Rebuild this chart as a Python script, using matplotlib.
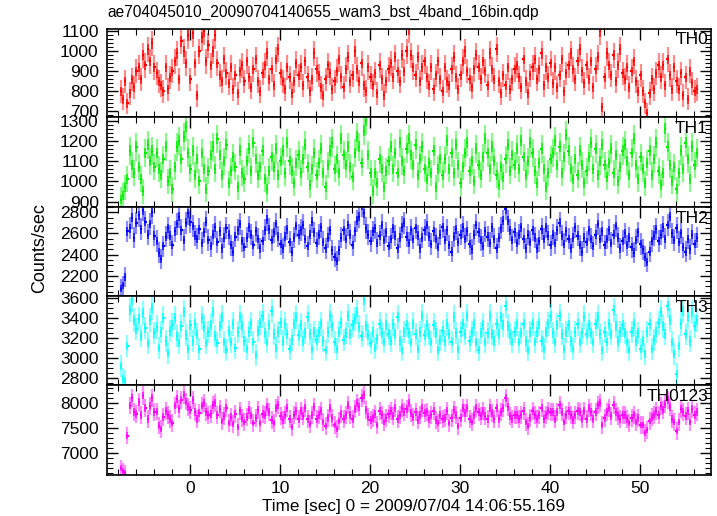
import numpy as np
import matplotlib
matplotlib.use("Agg")
import matplotlib.pyplot as plt
from matplotlib.ticker import MultipleLocator

plt.rcParams['font.family'] = ['Liberation Sans', 'DejaVu Sans']

# light curve, 0.25 s bins, counts/sec
bin_width = 0.25
t_start = -7.8

th0 = [800, 760, 850, 740, 790, 860, 820, 900,
       920, 860, 980, 930, 1010, 950, 1040, 920,
       890, 850, 830, 800, 920, 810, 870, 900,
       950, 990, 860, 1050, 1000, 940, 1080, 860,
       1090, 940, 780, 1000, 1070, 1100, 950, 1030,
       930, 1000, 1080, 940, 880, 850, 960, 890,
       840, 920, 810, 880, 790, 900, 930, 850,
       950, 870, 820, 910, 960, 850, 800, 890,
       930, 990, 860, 910, 830, 960, 1010, 890,
       850, 810, 920, 870, 790, 850, 940, 880,
       920, 830, 950, 870, 800, 860, 990, 910,
       880, 820, 780, 860, 930, 890, 810, 850,
       900, 960, 870, 820, 910, 970, 850, 880,
       1000, 910, 850, 940, 830, 800, 920, 870,
       830, 890, 790, 930, 860, 780, 850, 910,
       940, 870, 970, 900, 850, 980, 900, 1000,
       1110, 980, 920, 880, 970, 850, 920, 950,
       870, 830, 920, 810, 880, 950, 860, 800,
       920, 850, 830, 910, 970, 870, 810, 880,
       950, 1000, 900, 860, 820, 910, 980, 920,
       860, 950, 900, 830, 990, 910, 860, 1010,
       850, 790, 880, 830, 920, 810, 860, 910,
       930, 870, 820, 960, 850, 790, 880, 920,
       960, 860, 910, 990, 830, 920, 870, 940,
       840, 920, 820, 880, 960, 800, 890, 930,
       990, 910, 860, 950, 1010, 900, 840, 930,
       860, 950, 820, 910, 970, 1100, 720, 870,
       990, 930, 880, 980, 850, 930, 1010, 890,
       860, 920, 820, 900, 950, 850, 800, 880,
       800, 740, 690, 790, 860, 810, 890, 930,
       870, 930, 830, 960, 880, 810, 920, 850,
       810, 890, 780, 870, 760, 900, 840, 800,
       810]

th1 = [910, 930, 970, 1010, 1150, 1080, 1040, 1170,
       1070, 1010, 950, 1140, 1180, 1100, 1150, 1070,
       1140, 1060, 1030, 1110, 1170, 1000, 1040, 960,
       1070, 1170, 1200, 1110, 1220, 1270, 1140, 1060,
       1150, 1030, 1110, 1000, 1140, 1060, 960, 1050,
       1130, 1170, 1060, 1210, 1130, 1030, 1100, 1180,
       990, 1050, 1120, 1070, 970, 1150, 1040, 1010,
       1100, 1160, 1050, 1190, 1110, 1030, 1070, 1150,
       1010, 960, 1050, 1120, 1070, 1160, 1030, 1100,
       1150, 1040, 1190, 1100, 1050, 990, 1090, 1130,
       1040, 1110, 1180, 1070, 980, 1060, 1140, 1030,
       1090, 1160, 1040, 970, 1080, 1150, 1190, 1060,
       1110, 1040, 1210, 1130, 1080, 1170, 1070, 1020,
       1140, 1220, 1170, 1090, 1250, 1300, 1130, 1040,
       950, 1040, 990, 1110, 1060, 970, 1050, 1100,
       1170, 1060, 1140, 1040, 1190, 1100, 1050, 1160,
       1210, 1130, 1080, 1180, 1030, 1110, 1170, 1060,
       1010, 1090, 1040, 1150, 970, 1060, 1110, 1030,
       1110, 1200, 1060, 1140, 1040, 1180, 1080, 990,
       1070, 1140, 1190, 1050, 1100, 1000, 1160, 1080,
       1030, 1120, 1210, 1140, 1060, 1170, 1100, 1030,
       980, 1070, 1020, 1110, 1180, 1050, 1130, 1080,
       1160, 1060, 1200, 1120, 1030, 1100, 1190, 1140,
       1050, 990, 1090, 1160, 1060, 970, 1040, 1110,
       1140, 1200, 1080, 1170, 1040, 1120, 1230, 1150,
       1060, 1010, 1110, 1030, 1150, 1080, 990, 1050,
       1120, 1190, 1060, 1160, 1030, 1100, 1180, 1080,
       1020, 1090, 1160, 1040, 1130, 1000, 1070, 1150,
       1180, 1100, 1030, 1140, 1210, 1080, 1010, 1120,
       1060, 990, 1090, 1150, 1030, 1110, 1190, 1050,
       980, 1040, 1260, 1170, 1080, 1000, 1070, 960,
       1040, 1150, 1060, 1190, 1110, 1010, 1170, 1080,
       1140]

th2 = [2080, 2110, 2190, 2620, 2650, 2750, 2560, 2700,
       2770, 2640, 2820, 2710, 2590, 2690, 2800, 2580,
       2530, 2420, 2360, 2480, 2570, 2650, 2580, 2490,
       2620, 2690, 2760, 2630, 2540, 2700, 2790, 2710,
       2670, 2580, 2550, 2640, 2510, 2610, 2710, 2540,
       2480, 2590, 2660, 2520, 2620, 2460, 2560, 2650,
       2590, 2490, 2430, 2570, 2630, 2690, 2530, 2470,
       2560, 2660, 2590, 2490, 2620, 2550, 2460, 2530,
       2630, 2730, 2640, 2540, 2610, 2690, 2570, 2500,
       2460, 2570, 2640, 2520, 2430, 2560, 2670, 2590,
       2630, 2680, 2550, 2480, 2590, 2710, 2610, 2510,
       2590, 2660, 2520, 2460, 2560, 2630, 2440, 2380,
       2340, 2440, 2560, 2630, 2550, 2680, 2590, 2490,
       2620, 2720, 2760, 2860, 2790, 2650, 2590, 2530,
       2620, 2650, 2510, 2580, 2680, 2540, 2610, 2480,
       2550, 2650, 2580, 2460, 2560, 2660, 2700, 2570,
       2510, 2630, 2550, 2650, 2580, 2460, 2560, 2630,
       2680, 2570, 2500, 2620, 2550, 2470, 2590, 2660,
       2540, 2630, 2490, 2430, 2570, 2640, 2520, 2590,
       2660, 2550, 2620, 2500, 2450, 2590, 2680, 2610,
       2540, 2480, 2620, 2570, 2510, 2660, 2550, 2460,
       2560, 2650, 2720, 2830, 2720, 2630, 2540, 2610,
       2510, 2590, 2660, 2550, 2460, 2590, 2520, 2630,
       2560, 2460, 2530, 2640, 2550, 2660, 2580, 2490,
       2590, 2510, 2630, 2700, 2580, 2500, 2620, 2550,
       2460, 2560, 2660, 2580, 2490, 2430, 2560, 2520,
       2630, 2550, 2480, 2590, 2690, 2550, 2620, 2490,
       2550, 2630, 2510, 2590, 2670, 2560, 2460, 2530,
       2600, 2490, 2560, 2470, 2420, 2540, 2610, 2500,
       2450, 2380, 2330, 2430, 2530, 2580, 2640, 2530,
       2590, 2660, 2550, 2680, 2760, 2600, 2540, 2650,
       2520, 2600, 2470, 2430, 2550, 2450, 2590, 2500,
       2560]

th3 = [2920, 2790, 2770, 3120, 3480, 3580, 3380, 3290,
       3390, 3220, 3450, 3300, 3150, 3380, 3500, 3250,
       3310, 3100, 3260, 3400, 3170, 3050, 3270, 3330,
       3400, 3220, 3150, 3320, 3460, 3230, 3090, 3330,
       3170, 3340, 3240, 3090, 3400, 3310, 3150, 3260,
       3330, 3460, 3220, 3150, 3320, 3410, 3160, 3080,
       3270, 3160, 3340, 3100, 3260, 3410, 3320, 3170,
       3090, 3260, 3340, 3160, 3030, 3270, 3350, 3420,
       3250, 3160, 3330, 3470, 3240, 3100, 3260, 3350,
       3170, 3340, 3240, 3090, 3180, 3340, 3410, 3230,
       3330, 3170, 3250, 3410, 3240, 3090, 3260, 3180,
       3260, 3340, 3170, 3080, 3260, 3420, 3320, 3160,
       3090, 3260, 3350, 3180, 3250, 3420, 3240, 3330,
       3390, 3460, 3310, 3220, 3580, 3320, 3230, 3150,
       3260, 3100, 3190, 3340, 3250, 3160, 3330, 3240,
       3170, 3340, 3240, 3410, 3170, 3080, 3260, 3330,
       3250, 3160, 3340, 3240, 3090, 3260, 3420, 3230,
       3330, 3240, 3160, 3330, 3250, 3080, 3180, 3270,
       3170, 3340, 3240, 3160, 3410, 3250, 3090, 3260,
       3340, 3240, 3420, 3170, 3260, 3340, 3160, 3080,
       3250, 3330, 3160, 3250, 3420, 3240, 3170, 3340,
       3240, 3410, 3330, 3520, 3320, 3240, 3160, 3260,
       3340, 3160, 3250, 3340, 3170, 3080, 3260, 3340,
       3160, 3260, 3340, 3170, 3090, 3260, 3340, 3420,
       3250, 3160, 3330, 3420, 3240, 3090, 3260, 3330,
       3170, 3090, 3260, 3340, 3160, 3250, 3410, 3240,
       3330, 3250, 3160, 3340, 3410, 3240, 3080, 3260,
       3160, 3340, 3240, 3480, 3320, 3170, 3260, 3330,
       3250, 3160, 3080, 3260, 3340, 3170, 3250, 3090,
       3170, 3040, 3260, 3340, 3090, 3180, 3260, 3350,
       3460, 3320, 3240, 3520, 3380, 3160, 3040, 2840,
       3120, 3340, 3470, 3240, 3410, 3170, 3460, 3320,
       3380]

th0123 = [6700, 6640, 6600, 7350, 7950, 8100, 7820, 7780,
          8020, 7760, 8150, 7900, 7680, 7940, 8100, 7820,
          7830, 7550, 7480, 7720, 7840, 7760, 7680, 7600,
          7950, 8080, 7880, 8060, 8160, 8030, 7920, 7860,
          8060, 7820, 7680, 7800, 7950, 8000, 7820, 7760,
          7780, 7960, 8000, 7760, 7880, 7640, 7740, 7900,
          7600, 7720, 7580, 7780, 7520, 7840, 7700, 7620,
          7720, 7860, 7750, 7600, 7700, 7860, 7600, 7780,
          7760, 7920, 7820, 7660, 7600, 7900, 7960, 7740,
          7660, 7760, 7900, 7680, 7520, 7760, 7840, 7680,
          7840, 7740, 7900, 7680, 7580, 7760, 7920, 7680,
          7760, 7840, 7620, 7540, 7700, 7900, 7700, 7560,
          7480, 7640, 7780, 7680, 7760, 7960, 7760, 7680,
          7880, 8000, 7920, 8100, 8160, 7860, 7720, 7660,
          7700, 7780, 7560, 7840, 7760, 7620, 7700, 7780,
          7840, 7740, 7900, 7680, 7760, 7900, 7820, 7880,
          8000, 7800, 7720, 7820, 7660, 7760, 7900, 7800,
          7820, 7680, 7760, 7840, 7660, 7600, 7760, 7680,
          7700, 7840, 7600, 7700, 7860, 7760, 7540, 7700,
          7900, 7800, 7900, 7680, 7620, 7760, 7900, 7820,
          7740, 7840, 7740, 7680, 7900, 7800, 7680, 7900,
          7680, 7820, 7900, 8100, 7920, 7740, 7680, 7760,
          7760, 7680, 7760, 7840, 7620, 7540, 7700, 7840,
          7760, 7680, 7760, 7900, 7680, 7760, 7840, 7820,
          7820, 7680, 7820, 7960, 7820, 7620, 7760, 7840,
          7760, 7660, 7760, 7840, 7820, 7680, 7840, 7680,
          7900, 7820, 7680, 7820, 7960, 8000, 7560, 7700,
          7820, 7900, 7740, 7960, 7820, 7740, 7680, 7760,
          7760, 7680, 7600, 7700, 7760, 7620, 7700, 7560,
          7560, 7400, 7460, 7640, 7720, 7760, 7840, 7760,
          7940, 7860, 7980, 8060, 7920, 7680, 7620, 7440,
          7620, 7880, 7820, 7740, 7840, 7620, 7880, 7760,
          7820]

band_names = ['TH0', 'TH1', 'TH2', 'TH3', 'TH0123']
band_rates = [th0, th1, th2, th3, th0123]
band_colors = ['#ff0000', '#00ee00', '#0000ff', '#00ffff', '#ff00ff']
y_limits = [(672, 1115), (873, 1318), (2010, 2850), (2730, 3620), (6560, 8360)]
y_major = [100, 100, 200, 200, 500]
y_minor = [20, 20, 50, 50, 100]

title = 'ae704045010_20090704140655_wam3_bst_4band_16bin.qdp'
xlabel = 'Time [sec] 0 = 2009/07/04 14:06:55.169'

W, H = 717, 516
fig = plt.figure(figsize=(W / 100, H / 100), dpi=100)

left, right = 107, 711
edges = [28.5, 117, 207, 296, 385, 475]

for i, (name, rate, col) in enumerate(zip(band_names, band_rates, band_colors)):
    top, bot = edges[i], edges[i + 1]
    ax = fig.add_axes([left / W, 1 - bot / H, (right - left) / W, (bot - top) / H])
    rate = np.array(rate, dtype=float)
    t = t_start + bin_width * (np.arange(len(rate)) + 0.5)
    err = np.sqrt(rate * bin_width) / bin_width
    # error bars (light) + bin values (solid)
    ax.vlines(t, rate - err, rate + err, color=col, lw=1.6, alpha=0.45)
    ax.hlines(rate, t - bin_width / 2, t + bin_width / 2, color=col, lw=1.6)
    ax.vlines(t, rate - err * 0.4, rate + err * 0.4, color=col, lw=1.2, alpha=0.85)

    ax.set_xlim(-9.2, 57.9)
    ax.set_ylim(*y_limits[i])
    ax.xaxis.set_major_locator(MultipleLocator(10))
    ax.xaxis.set_minor_locator(MultipleLocator(2))
    ax.yaxis.set_major_locator(MultipleLocator(y_major[i]))
    ax.yaxis.set_minor_locator(MultipleLocator(y_minor[i]))
    ax.tick_params(which='both', direction='in', top=True, right=True,
                   labelsize=12.5, colors='black', pad=6)
    ax.tick_params(axis='x', pad=4)
    ax.tick_params(which='major', length=8, width=1.0)
    ax.tick_params(which='minor', length=4, width=0.8)
    for s in ax.spines.values():
        s.set_linewidth(1.2)
    if i < 4:
        ax.tick_params(labelbottom=False)
    ax.text(0.995, 0.955, name, transform=ax.transAxes, ha='right', va='top',
            fontsize=12.5)

fig.text(left / W, 1 - 12 / H, title, fontsize=11.2, ha='left', va='center')
fig.text(414 / W, 1 - 507 / H, xlabel, fontsize=12.3, ha='center', va='center')
fig.text(40 / W, 1 - 248 / H, 'Counts/sec', fontsize=13, rotation=90,
         ha='center', va='center')

fig.savefig('out.png', dpi=100)
